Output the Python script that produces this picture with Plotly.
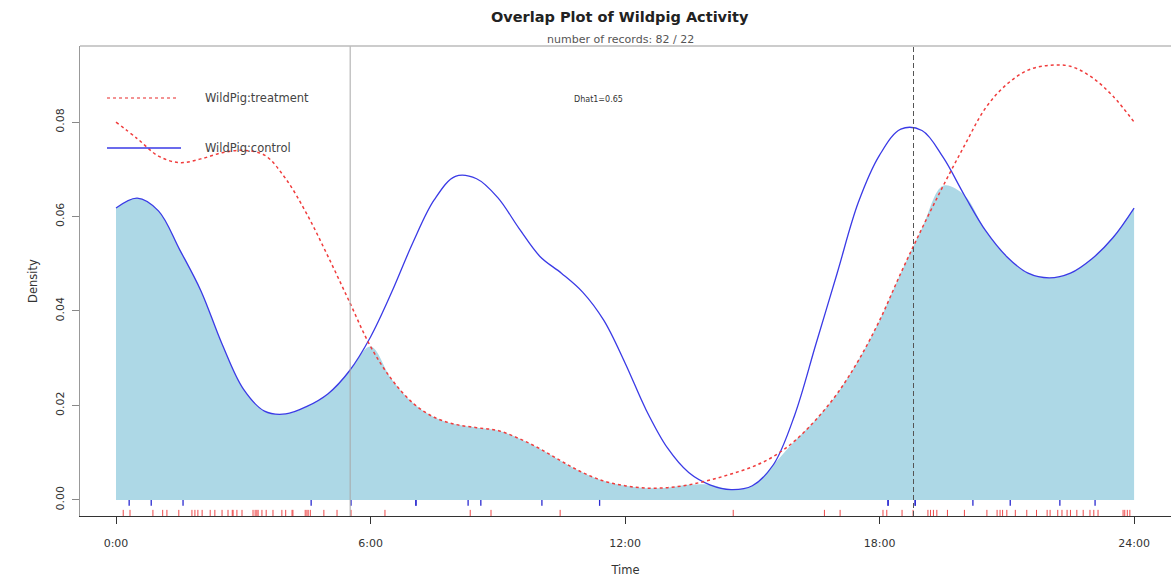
import plotly.graph_objects as go

# ---- data ----
hours = [0, 0.5, 1, 1.5, 2, 2.5, 3, 3.5, 4, 4.5, 5, 5.5, 6, 6.5, 7, 7.5, 8, 8.5, 9, 9.5,
         10, 10.5, 11, 11.5, 12, 12.5, 13, 13.5, 14, 14.5, 15, 15.5, 16, 16.5, 17, 17.5,
         18, 18.5, 19, 19.5, 20, 20.5, 21, 21.5, 22, 22.5, 23, 23.5, 24]

treatment = [0.0800, 0.0765, 0.0728, 0.0714, 0.0722, 0.0735, 0.0740, 0.0730, 0.0680, 0.0605,
             0.0515, 0.0420, 0.0325, 0.0255, 0.0205, 0.0175, 0.0160, 0.0153, 0.0147, 0.0130,
             0.0108, 0.0082, 0.0058, 0.0040, 0.0030, 0.0025, 0.0026, 0.0032, 0.0042, 0.0055,
             0.0070, 0.0092, 0.0125, 0.0170, 0.0225, 0.0295, 0.0380, 0.0480, 0.0575, 0.0665,
             0.0750, 0.0830, 0.0880, 0.0910, 0.0920, 0.0918, 0.0895, 0.0855, 0.0800]

control = [0.0618, 0.0639, 0.0612, 0.0530, 0.0443, 0.0330, 0.0235, 0.0188, 0.0182, 0.0198,
           0.0225, 0.0273, 0.0345, 0.0440, 0.0545, 0.0635, 0.0685, 0.0680, 0.0640, 0.0575,
           0.0515, 0.0480, 0.0440, 0.0380, 0.0290, 0.0190, 0.0110, 0.0058, 0.0032, 0.0022,
           0.0030, 0.0075, 0.0180, 0.0330, 0.0480, 0.0630, 0.0730, 0.0785, 0.0782, 0.0725,
           0.0645, 0.0570, 0.0515, 0.0480, 0.0470, 0.0480, 0.0510, 0.0555, 0.0618]

treatment_records = [0.17, 0.33, 0.87, 1.1, 1.2, 1.48, 1.79, 1.86, 1.93, 2.03, 2.22, 2.33, 2.5,
                     2.64, 2.74, 2.76, 2.85, 2.97, 3.23, 3.28, 3.32, 3.35, 3.44, 3.54, 3.7, 3.91,
                     4.0, 4.15, 4.17, 4.46, 4.5, 4.53, 4.58, 4.9, 5.21, 5.54, 6.34, 8.35, 8.84,
                     10.47, 14.55, 16.7, 17.07, 18.08, 18.17, 18.53, 18.79, 19.14, 19.2, 19.27,
                     19.35, 19.6, 20.0, 20.53, 20.77, 20.84, 20.9, 21.0, 21.2, 21.47, 21.7,
                     21.95, 22.02, 22.2, 22.3, 22.42, 22.5, 22.65, 22.8, 22.96, 23.05, 23.15,
                     23.74, 23.78, 23.84, 23.9]

control_records = [0.31, 0.83, 1.58, 4.6, 5.54, 7.07, 7.07, 8.3, 8.6, 10.04, 11.4, 18.2, 18.2,
                   18.84, 18.84, 20.2, 21.08, 22.25, 23.08]

ref_lines = [5.52, 18.8]

x_tickvals = [0, 6, 12, 18, 24]
x_ticktext = ["0:00", "6:00", "12:00", "18:00", "24:00"]
y_tickvals = [0.00, 0.02, 0.04, 0.06, 0.08]
y_ticktext = ["0.00", "0.02", "0.04", "0.06", "0.08"]

overlap = [min(a, b) for a, b in zip(treatment, control)]


def rug(vals, y0, y1):
    xs, ys = [], []
    for v in vals:
        xs += [v, v, None]
        ys += [y0, y1, None]
    return xs, ys


FONT = "DejaVu Sans, Liberation Sans, Arial"

fig = go.Figure()

fig.add_trace(go.Scatter(x=hours, y=overlap, mode="lines", fill="tozeroy",
                         fillcolor="#ADD8E6", line=dict(width=0, shape="spline"),
                         hoverinfo="skip", showlegend=False))

fig.add_trace(go.Scatter(x=hours, y=control, mode="lines",
                         line=dict(color="#3a3ae6", width=1.3, shape="spline"),
                         name="WildPig:control", showlegend=False))

fig.add_trace(go.Scatter(x=hours, y=treatment, mode="lines",
                         line=dict(color="#f03c3c", width=1.5, dash="3px,3px", shape="spline"),
                         name="WildPig:treatment", showlegend=False))

rx, ry = rug(control_records, 0.0, -0.00125)
fig.add_trace(go.Scatter(x=rx, y=ry, mode="lines", line=dict(color="#2a2ad0", width=1.3),
                         hoverinfo="skip", showlegend=False))
rx, ry = rug(treatment_records, -0.0021, -0.0034)
fig.add_trace(go.Scatter(x=rx, y=ry, mode="lines", line=dict(color="#ee4a4a", width=1),
                         hoverinfo="skip", showlegend=False))

shapes = [
    dict(type="line", xref="x", yref="paper", x0=ref_lines[0], x1=ref_lines[0], y0=0, y1=1,
         line=dict(color="#a8a8a8", width=1)),
    dict(type="line", xref="x", yref="paper", x0=ref_lines[1], x1=ref_lines[1], y0=0, y1=1,
         line=dict(color="#555555", width=1, dash="5px,3px")),
    # top border of the box
    dict(type="line", xref="paper", yref="paper", x0=0, x1=1, y0=1, y1=1,
         line=dict(color="#bbbbbb", width=1.5)),
]

# legend samples (pixel positions converted to paper coords)
L, W, T, H = 80, 1091, 46, 470
def px(xp):
    return (xp - L) / W
def py(yp):
    return (T + H - yp) / H

shapes.append(dict(type="line", xref="paper", yref="paper", x0=px(107), x1=px(176),
                   y0=py(98), y1=py(98), line=dict(color="#f07070", width=1.5, dash="3px,3px")))
shapes.append(dict(type="line", xref="paper", yref="paper", x0=px(107), x1=px(181),
                   y0=py(148), y1=py(148), line=dict(color="#3a3ae6", width=1.3)))

annotations = [
    dict(text="WildPig:treatment", xref="paper", yref="paper", x=px(203), y=py(98),
         xanchor="left", yanchor="middle", showarrow=False,
         font=dict(family=FONT, size=11.5, color="#444444")),
    dict(text="WildPig:control", xref="paper", yref="paper", x=px(203), y=py(148),
         xanchor="left", yanchor="middle", showarrow=False,
         font=dict(family=FONT, size=11.5, color="#444444")),
    dict(text="Dhat1=0.65", xref="paper", yref="paper", x=px(598), y=py(99),
         xanchor="center", yanchor="middle", showarrow=False,
         font=dict(family=FONT, size=8, color="#333333")),
    dict(text="<b>Overlap Plot of Wildpig Activity</b>", xref="paper", yref="paper",
         x=px(620), y=py(17), xanchor="center", yanchor="middle", showarrow=False,
         font=dict(family=FONT, size=14.5, color="#222222")),
    dict(text="number of records: 82 / 22", xref="paper", yref="paper",
         x=px(620), y=py(39), xanchor="center", yanchor="middle", showarrow=False,
         font=dict(family=FONT, size=11, color="#555555")),
]

fig.update_layout(
    width=1171, height=582,
    margin=dict(l=L, r=0, t=T, b=582 - T - H, autoexpand=False),
    plot_bgcolor="white", paper_bgcolor="white",
    shapes=shapes, annotations=annotations,
    font=dict(family=FONT, size=11, color="#333333"),
    xaxis=dict(range=[-0.849, 24.87], tickvals=x_tickvals, ticktext=x_ticktext,
               showgrid=False, zeroline=False, showline=True, linecolor="#333333",
               linewidth=1.2, ticks="outside", ticklen=7, tickcolor="#333333",
               ticklabelstandoff=10, automargin=False,
               tickfont=dict(size=11, color="#333333"),
               title=dict(text="Time", standoff=16, font=dict(size=11.5, color="#333333"))),
    yaxis=dict(range=[-0.0034, 0.0961], tickvals=y_tickvals, ticktext=y_ticktext,
               showgrid=False, zeroline=False, showline=True, linecolor="#999999",
               linewidth=1.2, ticks="outside", ticklen=7, tickcolor="#888888",
               ticklabelstandoff=4, automargin=False,
               tickangle=-90, tickfont=dict(size=11, color="#333333"),
               title=dict(text="Density", standoff=13, font=dict(size=11.5, color="#333333"))),
)

fig.write_html("out.html", config={"displayModeBar": False},
               post_script="document.body.style.margin='0px';")
